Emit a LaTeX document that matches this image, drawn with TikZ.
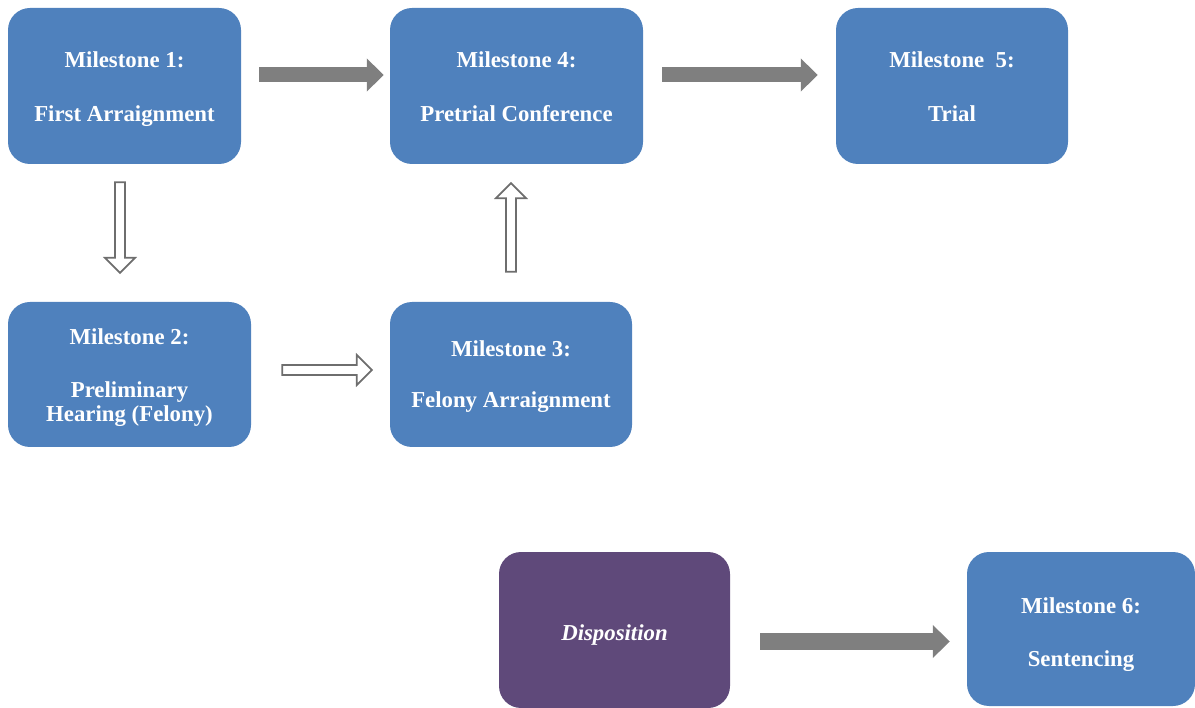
\documentclass[tikz,border=0pt]{standalone}
\usepackage{fontspec}
\setmainfont{Liberation Serif}
\usetikzlibrary{calc,arrows.meta}

\definecolor{boxblue}{HTML}{4F81BD}
\definecolor{boxpurple}{HTML}{5F497A}
\definecolor{arrowgray}{HTML}{7F7F7F}
\definecolor{outlinegray}{HTML}{6E6E6E}

\tikzset{
  milestone/.style={rectangle, rounded corners=22pt, inner sep=0pt, fill=boxblue},
  dispobox/.style={milestone, fill=boxpurple},
  lbl/.style={anchor=base, inner sep=0pt, text=white, font=\fontsize{22.8}{26.5}\selectfont\bfseries},
  solidarrow/.style={draw=arrowgray, line width=#1, -{Triangle[length=17pt,width=32pt]}},
  % outlined block arrow drawn between two points
  hollowarrow/.style={draw=outlinegray, fill=white, line width=1.8pt, line join=miter,
    to path={
      ($(\tikztostart)!5pt!90:(\tikztotarget)$)
      -- ($(\tikztotarget)!15.81pt!-18.43:(\tikztostart)$)
      -- ($(\tikztotarget)!21.21pt!-45:(\tikztostart)$)
      -- (\tikztotarget)
      -- ($(\tikztotarget)!21.21pt!45:(\tikztostart)$)
      -- ($(\tikztotarget)!15.81pt!18.43:(\tikztostart)$)
      -- ($(\tikztostart)!5pt!-90:(\tikztotarget)$)
      -- cycle}}
}

\begin{document}
\begin{tikzpicture}[x=1pt,y=-1pt]
  \useasboundingbox (0,0) rectangle (1195,708);

  % milestone boxes
  \node[milestone, minimum width=233pt, minimum height=156pt] (m1) at (124.5,86) {};
  \node[milestone, minimum width=253pt, minimum height=156pt] (m4) at (516.5,86) {};
  \node[milestone, minimum width=232pt, minimum height=156pt] (m5) at (952,86) {};
  \node[milestone, minimum width=243pt, minimum height=145pt] (m2) at (129.5,374.5) {};
  \node[milestone, minimum width=242pt, minimum height=145pt] (m3) at (511,374.5) {};
  \node[dispobox,  minimum width=231pt, minimum height=156pt] (disp) at (614.5,630) {};
  \node[milestone, minimum width=228pt, minimum height=154pt] (m6) at (1081,629) {};

  % box captions, one node per line, set on their baselines
  \node[lbl] (m1a) at (124.5,68)  {Milestone 1:};
  \node[lbl] (m1b) at (124.5,122) {First Arraignment};
  \node[lbl] (m4a) at (516.5,68)  {Milestone 4:};
  \node[lbl] (m4b) at (516.5,122) {Pretrial Conference};
  \node[lbl] (m5a) at (952,68)    {Milestone~~5:};
  \node[lbl] (m5b) at (952,122)   {Trial};
  \node[lbl] (m2a) at (129.5,345) {Milestone 2:};
  \node[lbl] (m2b) at (129.5,398) {Preliminary};
  \node[lbl] (m2c) at (129.5,422) {Hearing (Felony)};
  \node[lbl] (m3a) at (511,357)   {Milestone 3:};
  \node[lbl] (m3b) at (511,408)   {Felony Arraignment};
  \node[lbl, font=\fontsize{22.8}{26.5}\selectfont\bfseries\itshape] (dispa) at (614.5,640) {Disposition};
  \node[lbl] (m6a) at (1081,613)  {Milestone 6:};
  \node[lbl] (m6b) at (1081,666)  {Sentencing};

  % end points of the outlined arrows
  \coordinate (d1) at ($(m1.south)+(-4.5,18)$);
  \coordinate (d2) at ($(m2.north)+(-9.5,-29)$);
  \coordinate (e1) at ($(m2.east)+(31,-4.5)$);
  \coordinate (e2) at ($(m3.west)+(-18,-4.5)$);
  \coordinate (f1) at ($(m3.north)+(0,-30)$);
  \coordinate (f2) at ($(m4.south)+(-5.5,19)$);

  % solid arrows
  \draw[solidarrow=15pt, shorten <=18pt, shorten >=6pt] ([yshift=11pt]m1.east) -- ([yshift=11pt]m4.west);
  \draw[solidarrow=15pt, shorten <=19pt, shorten >=18pt] ([yshift=11pt]m4.east) -- ([yshift=11pt]m5.west);
  \draw[solidarrow=17pt, shorten <=30pt, shorten >=17pt] ([yshift=-11.5pt]disp.east) -- ([yshift=-12.5pt]m6.west);

  % outlined arrows
  \draw[hollowarrow] (d1) to (d2);
  \draw[hollowarrow] (e1) to (e2);
  \draw[hollowarrow] (f1) to (f2);
\end{tikzpicture}
\end{document}
